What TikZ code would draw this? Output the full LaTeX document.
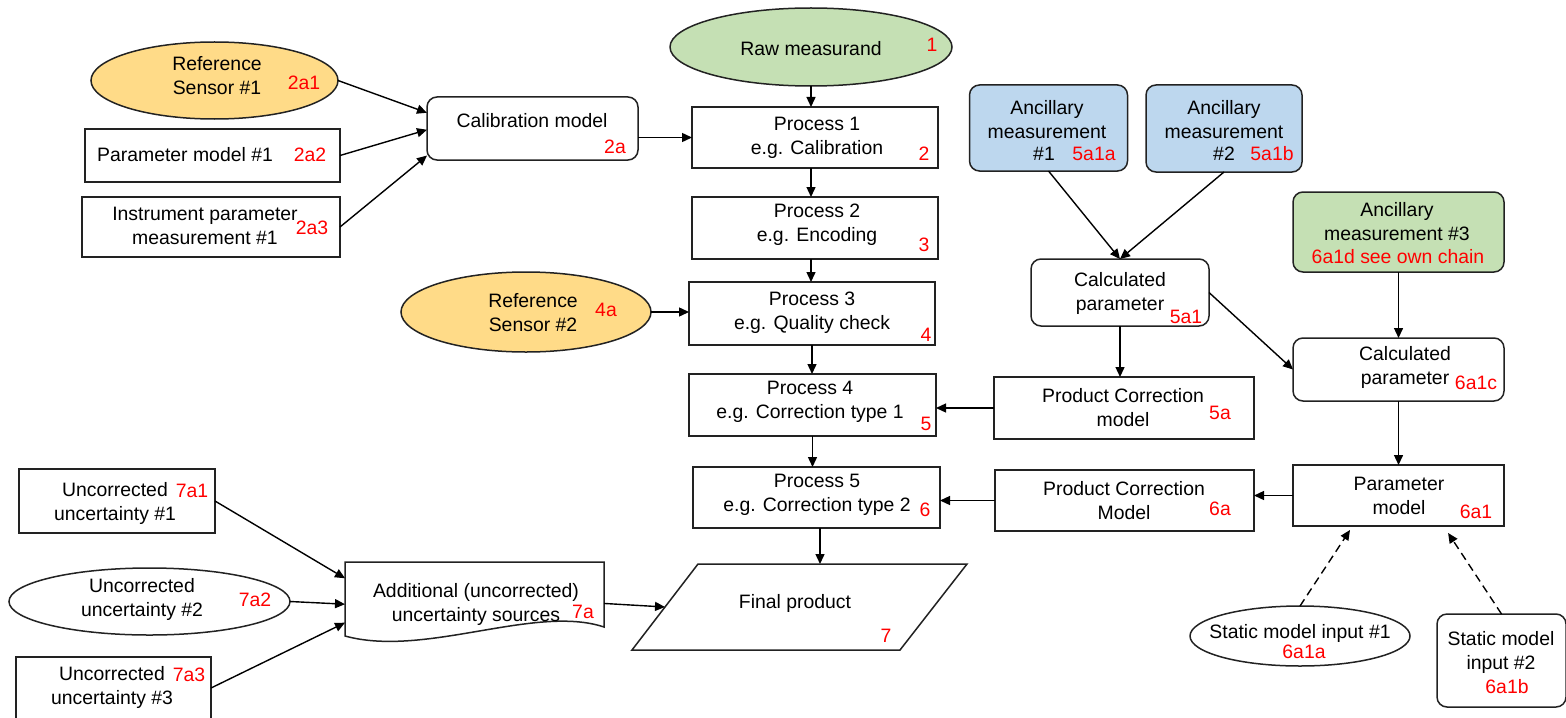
\documentclass[tikz,border=0pt]{standalone}
\usepackage{fontspec}
\setmainfont{Liberation Sans}
\usetikzlibrary{arrows.meta,shapes.geometric,calc}
\definecolor{ygold}{HTML}{FFDB88}
\definecolor{lgreen}{HTML}{C5E0B4}
\definecolor{lblue}{HTML}{BDD7EE}
\definecolor{edgec}{HTML}{222222}
\begin{document}
\begin{tikzpicture}[x=0.5pt,y=-0.5pt,
  shp/.style={draw=edgec,line width=0.75pt,inner sep=0pt,outer sep=0pt},
  box/.style={shp,rectangle},
  rbox/.style={shp,rectangle,rounded corners=5pt},
  ell/.style={shp,ellipse},
  txt/.style={inner sep=0pt,align=center,font=\fontsize{9.7}{12}\selectfont,text=black},
  lab/.style={inner sep=0pt,font=\fontsize{9.7}{12}\selectfont,text=red},
  arr/.style={draw=black,line width=0.7pt,-{Triangle[length=5pt,width=4.5pt]}},
  darr/.style={arr,dash pattern=on 4pt off 2.5pt}]
\fill[white] (0,0) rectangle (1566,717);
\useasboundingbox (0,0) rectangle (1566,717);

% ---------- shapes ----------
\node[ell,fill=lgreen,minimum width=141pt,minimum height=39pt] (raw) at (811,47) {};
\node[ell,fill=ygold,minimum width=123.5pt,minimum height=38.5pt] (rs1) at (214.5,80.5) {};
\node[box,minimum width=127.5pt,minimum height=26.5pt] (pm1) at (212.5,155.5) {};
\node[box,minimum width=129pt,minimum height=30pt] (ipm) at (211,227) {};
\node[rbox,minimum width=105.5pt,minimum height=31.5pt] (calib) at (532.5,128.5) {};
\node[box,minimum width=123pt,minimum height=30.5pt] (p1) at (815,137.5) {};
\node[box,minimum width=123pt,minimum height=31pt] (p2) at (815,228) {};
\node[ell,fill=ygold,minimum width=125pt,minimum height=40pt] (rs2) at (526,312) {};
\node[box,minimum width=123pt,minimum height=31.5pt] (p3) at (812,313.5) {};
\node[box,minimum width=123.5pt,minimum height=31pt] (p4) at (812.5,405) {};
\node[box,minimum width=123.5pt,minimum height=30.5pt] (p5) at (816.5,497.5) {};
% final product: parallelogram
\coordinate (fpA) at (632,650);
\coordinate (fpB) at (698,564);
\coordinate (fpC) at (967,564);
\coordinate (fpD) at (900,650);
\draw[shp] (fpA) -- (fpB) -- (fpC) -- (fpD) -- cycle;
\coordinate (fpTop) at (820,564);
\coordinate (fpLeft) at ($(fpA)!0.5!(fpB)$);
% additional uncertainty sources: document shape
\node[inner sep=0pt,outer sep=0pt,minimum width=129.5pt,minimum height=37pt] (a7) at (474.5,599) {};
\draw[shp] (345,636) -- (345,562) -- (604,562) -- (604,627)
   .. controls (535,604) and (425,658) .. (345,636) -- cycle;
\node[box,minimum width=98pt,minimum height=32pt] (u1) at (117,501) {};
\node[ell,minimum width=140.5pt,minimum height=33.5pt] (u2) at (149.5,601.5) {};
\node[box,minimum width=97.5pt,minimum height=31pt] (u3) at (113.5,688) {};
\node[rbox,fill=lblue,minimum width=79pt,minimum height=43pt] (an1) at (1048.5,128) {};
\node[rbox,fill=lblue,minimum width=78pt,minimum height=43.5pt] (an2) at (1224,128.5) {};
\node[rbox,minimum width=89pt,minimum height=33.5pt] (c5) at (1120,292.5) {};
\node[rbox,fill=lgreen,minimum width=105.5pt,minimum height=40pt] (an3) at (1398.5,232) {};
\node[rbox,minimum width=105.5pt,minimum height=31.5pt] (c6) at (1398.5,369.5) {};
\node[box,minimum width=130pt,minimum height=31pt] (pc5) at (1124,408) {};
\node[box,minimum width=129.5pt,minimum height=30.5pt] (pc6) at (1124.5,500.5) {};
\node[box,minimum width=105.5pt,minimum height=30.5pt] (pm6) at (1398.5,495.5) {};
\node[ell,minimum width=110pt,minimum height=30pt] (sm1) at (1300,636) {};
\node[rbox,minimum width=64.5pt,minimum height=46.5pt] (sm2) at (1501.5,660.5) {};

% ---------- texts ----------
\node[txt] (traw) at (811,49) {Raw measurand};
\node[lab] (l1) at (932,45) {1};
\node[txt] (trs1) at (217,76) {Reference\\Sensor \#1};
\node[lab] (l2a1) at (304,83) {2a1};
\node[txt] (tpm1) at (185,155) {Parameter model \#1};
\node[lab] (l2a2) at (310,155) {2a2};
\node[txt] (tipm) at (205,226) {Instrument parameter\\measurement \#1};
\node[lab] (l2a3) at (312,228) {2a3};
\node[txt] (tcal) at (532,121) {Calibration model};
\node[lab] (l2a) at (615,147) {2a};
\node[txt] (tp1) at (817,138) {Process 1\\e.g. Calibration};
\node[lab] (l2) at (924,154) {2};
\node[txt] (tp2) at (817,224.5) {Process 2\\e.g. Encoding};
\node[lab] (l3) at (924,245) {3};
\node[txt] (trs2) at (533,312.5) {Reference\\Sensor \#2};
\node[lab] (l4a) at (606,310) {4a};
\node[txt] (tp3) at (812,312.5) {Process 3\\e.g. Quality check};
\node[lab] (l4) at (926,335) {4};
\node[txt] (tp4) at (810,401.5) {Process 4\\e.g. Correction type 1};
\node[lab] (l5) at (926,424) {5};
\node[txt] (tp5) at (817,495) {Process 5\\e.g. Correction type 2};
\node[lab] (l6) at (925,510) {6};
\node[txt] (tfp) at (795,603) {Final product};
\node[lab] (l7) at (886,636) {7};
\node[txt] (ta7) at (476,604.5) {Additional (uncorrected)\\uncertainty sources};
\node[lab] (l7a) at (583,612) {7a};
\node[txt] (tu1) at (115,503) {Uncorrected\\uncertainty \#1};
\node[lab] (l7a1) at (192,491) {7a1};
\node[txt] (tu2) at (142,599.5) {Uncorrected\\uncertainty \#2};
\node[lab] (l7a2) at (255,600) {7a2};
\node[txt] (tu3) at (112,687.5) {Uncorrected\\uncertainty \#3};
\node[lab] (l7a3) at (189,675) {7a3};
\node[txt] (tan1) at (1047,119.5) {Ancillary\\measurement};
\node[txt] (tan1b) at (1044,154) {\#1};
\node[lab] (l5a1a) at (1094,154) {5a1a};
\node[txt] (tan2) at (1224,119.5) {Ancillary\\measurement};
\node[txt] (tan2b) at (1224,154) {\#2};
\node[lab] (l5a1b) at (1272,154) {5a1b};
\node[txt] (tc5) at (1120,293.5) {Calculated\\parameter};
\node[lab] (l5a1) at (1186,317) {5a1};
\node[txt] (tan3) at (1397,221.5) {Ancillary\\measurement \#3};
\node[lab] (l6a1d) at (1398,257) {6a1d see own chain};
\node[txt] (tc6) at (1405,367) {Calculated\\parameter};
\node[lab] (l6a1c) at (1476,383) {6a1c};
\node[txt] (tpc5) at (1123,408) {Product Correction\\model};
\node[lab] (l5a) at (1220,413) {5a};
\node[txt] (tpc6) at (1124,500.5) {Product Correction\\Model};
\node[lab] (l6a) at (1220,509) {6a};
\node[txt] (tpm6) at (1399,495.5) {Parameter\\model};
\node[lab] (l6a1) at (1476,512) {6a1};
\node[txt] (tsm1) at (1300,633) {Static model input \#1};
\node[lab] (l6a1a) at (1304,652) {6a1a};
\node[txt] (tsm2) at (1501,652.5) {Static model\\input \#2};
\node[lab] (l6a1b) at (1507,687) {6a1b};

% ---------- connectors ----------
\draw[arr] (rs1.east) -- ($(calib.north west)!0.25!(calib.south west)$);
\draw[arr] (pm1.east) -- ($(calib.north west)!0.52!(calib.south west)$);
\draw[arr] (ipm.east) -- ($(calib.north west)!0.93!(calib.south west)$);
\draw[arr] (calib.east |- p1.west) -- (p1.west);
\draw[arr] (raw.south) -- (raw.south |- p1.north);
\draw[arr] (p1.south -| raw.south) -- (p2.north -| raw.south);
\draw[arr] (p2.south -| raw.south) -- (p3.north -| raw.south);
\draw[arr] (rs2.east) -- (rs2.east -| p3.west);
\draw[arr] (p3.south) -- (p3.south |- p4.north);
\draw[arr] (p4.south) -- (p4.south |- p5.north);
\draw[arr] (p5.south -| fpTop) -- (fpTop);
\draw[arr] ($(a7.north east)!0.56!(a7.south east)$) -- (fpLeft);
\draw[arr] (u1.east) -- ($(a7.north west)!0.22!(a7.south west)$);
\draw[arr] (u2.east) -- ($(a7.north west)!0.57!(a7.south west)$);
\draw[arr] (u3.east) -- ($(a7.north west)!0.82!(a7.south west)$);
\draw[arr] (an1.south) -- (c5.north);
\draw[arr] (an2.south) -- (c5.north);
\draw[arr] (an3.south) -- (c6.north);
\draw[arr] (c5.east) -- (c6.west);
\draw[arr] (c5.south) -- (c5.south |- pc5.north);
\draw[arr] (pc5.west) -- (pc5.west -| p4.east);
\draw[arr] (pc6.west) -- (pc6.west -| p5.east);
\draw[arr] (c6.south) -- (pm6.north);
\draw[arr] (pm6.west) -- (pm6.west -| pc6.east);
\draw[darr] (sm1.north) -- ($(pm6.south west)!0.27!(pm6.south east)+(0,4)$);
\draw[darr] (sm2.north) -- ($(pm6.south west)!0.735!(pm6.south east)+(0,7)$);
\end{tikzpicture}
\end{document}
